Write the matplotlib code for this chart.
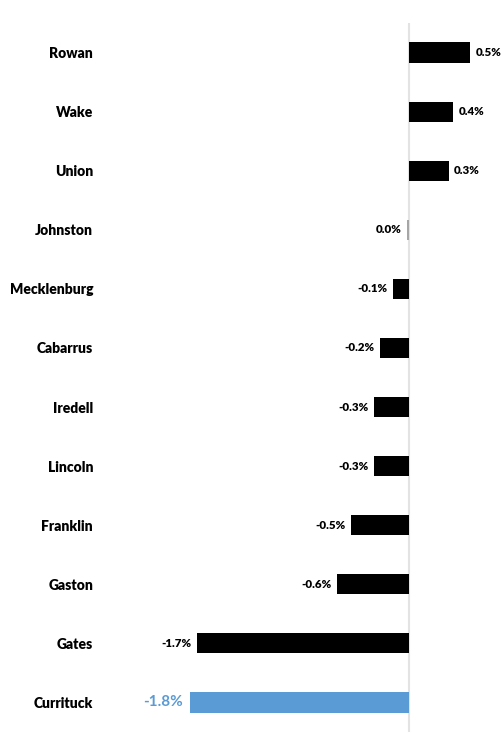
import matplotlib.pyplot as plt

# county population change, top to bottom as shown
counties = ['Rowan', 'Wake', 'Union', 'Johnston', 'Mecklenburg', 'Cabarrus',
            'Iredell', 'Lincoln', 'Franklin', 'Gaston', 'Gates', 'Currituck']
values = [0.51, 0.37, 0.33, -0.01, -0.126, -0.235,
          -0.28, -0.28, -0.475, -0.59, -1.74, -1.80]
value_labels = ['0.5%', '0.4%', '0.3%', '0.0%', '-0.1%', '-0.2%',
                '-0.3%', '-0.3%', '-0.5%', '-0.6%', '-1.7%', '-1.8%']
highlight = 'Currituck'

plt.rcParams['font.family'] = ['Lato', 'DejaVu Sans']

W, H = 503, 733
fig = plt.figure(figsize=(W / 100, H / 100), dpi=100)

# axes in pixel terms: zero line at x~408.5, 121.5 px per 1%
ax_l, ax_r = 150, 495
ax_t, ax_b = 23, 732
ax = fig.add_axes([ax_l / W, (H - ax_b) / H, (ax_r - ax_l) / W, (ax_b - ax_t) / H])
zero_px, px_per = 408.5, 121.5
ax.set_xlim(-(zero_px - ax_l) / px_per, (ax_r - zero_px) / px_per)
ax.set_ylim(len(counties) - 0.5, -0.5)

ypos = list(range(len(counties)))
colors = ['#5b9bd5' if c == highlight else 'black' for c in counties]
colors = ['#a6a6a6' if abs(v) < 0.05 else col for v, col in zip(values, colors)]
ax.barh(ypos, values, height=0.34, color=colors, zorder=2)
ax.axvline(0, color='#e3e3e3', lw=1.5, zorder=1)

for y, v, lab, c in zip(ypos, values, value_labels, counties):
    if c == highlight:
        ax.annotate(lab, (v, y), xytext=(-5, 0), textcoords='offset points',
                    ha='right', va='center', fontsize=11, fontweight='bold',
                    color='#5b9bd5')
    elif v >= 0:
        ax.annotate(lab, (v, y), xytext=(4, 0), textcoords='offset points',
                    ha='left', va='center', fontsize=8.3, fontweight='heavy')
    else:
        ax.annotate(lab, (v, y), xytext=(-4, 0), textcoords='offset points',
                    ha='right', va='center', fontsize=8.3, fontweight='heavy')

ax.set_yticks(ypos)
ax.set_yticklabels(counties, fontsize=10, fontweight='heavy')
ax.tick_params(axis='y', length=0, pad=41)
ax.set_xticks([])
for s in ax.spines.values():
    s.set_visible(False)

fig.savefig('out.png', dpi=100)
